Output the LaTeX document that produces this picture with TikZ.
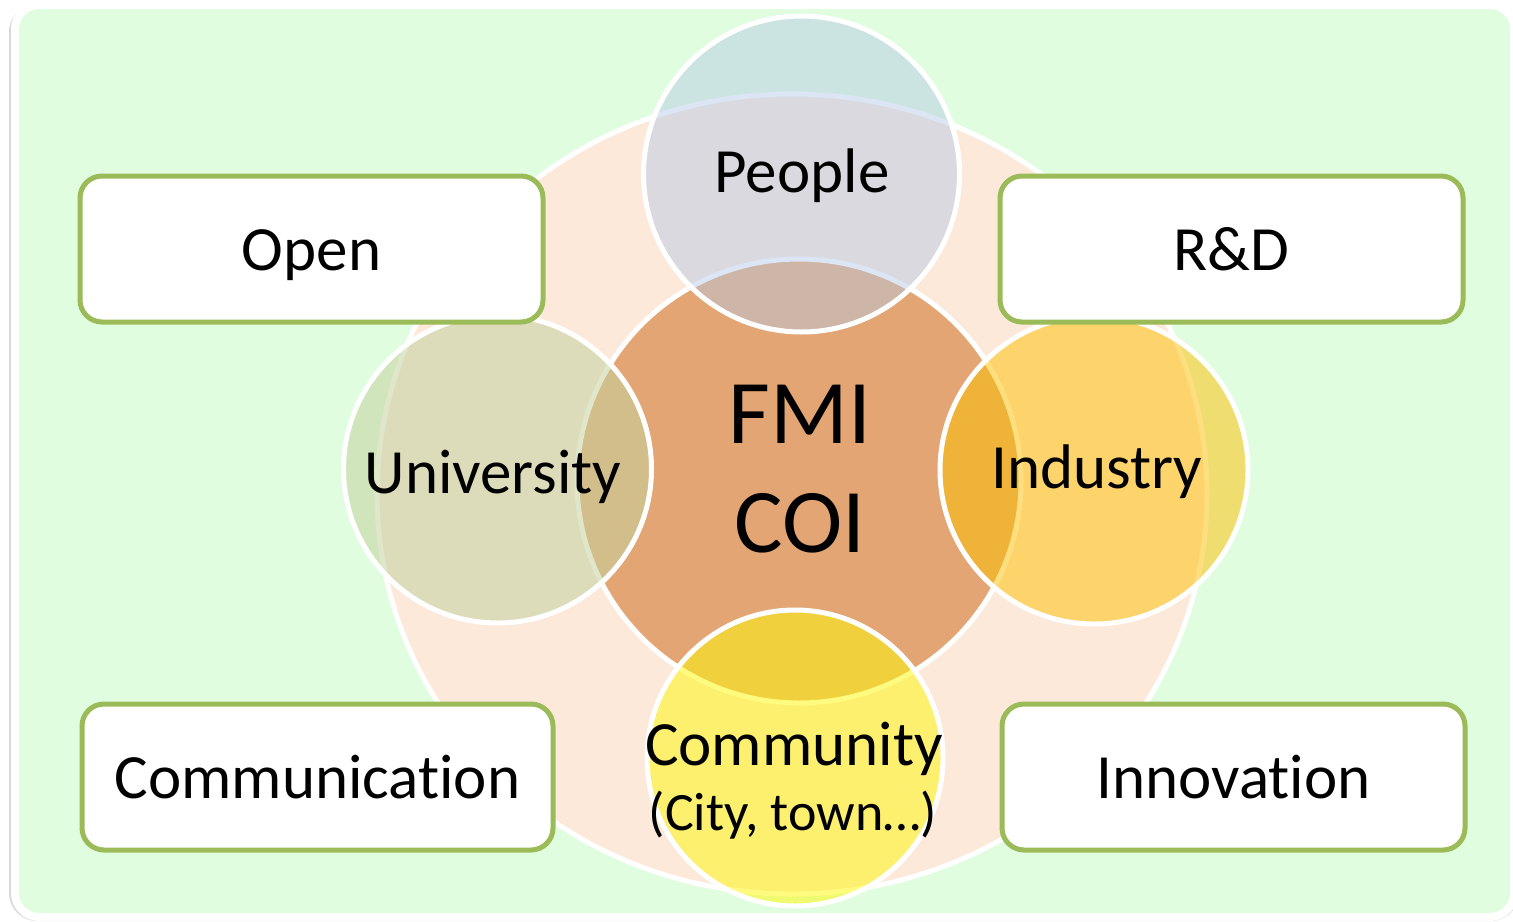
\documentclass[tikz,border=0pt]{standalone}
\usepackage{fontspec}
\setmainfont{Carlito}[Ligatures=NoCommon]
\usepackage{tikz}
\usetikzlibrary{shapes.geometric}

\definecolor{bggreen}{RGB}{224,253,224}
\definecolor{ringpeach}{RGB}{252,233,218}
\definecolor{coreorange}{RGB}{227,165,115}
\definecolor{peoplecol}{RGB}{180,200,230}
\definecolor{unicol}{RGB}{197,211,160}
\definecolor{indcol}{RGB}{254,193,0}
\definecolor{commcol}{RGB}{255,248,14}
\definecolor{boxgreen}{RGB}{155,187,89}

\tikzset{
  part/.style={circle, draw=white, line width=2.5pt, inner sep=0pt},
  facet/.style={rectangle, rounded corners=11pt, draw=boxgreen, fill=white,
    line width=2.5pt, minimum width=231.5pt, minimum height=73pt,
    text height=21pt, text depth=0pt, font=\fontsize{31.5}{37}\selectfont},
  lbl/.style={inner sep=0pt, anchor=base, font=\fontsize{31.5}{37}\selectfont},
}

\begin{document}
\begin{tikzpicture}[x=0.5pt, y=-0.5pt]
  \useasboundingbox (0,0) rectangle (1513,921);

  % Frame
  \fill[black!15, rounded corners=14pt] (9,4) rectangle (1519,921);
  \filldraw[fill=bggreen, draw=white, line width=4pt, rounded corners=12pt]
    (15,5) rectangle (1514,917);

  % Circles
  \node[ellipse, draw=white, line width=2.5pt, inner sep=0pt, fill=ringpeach,
    minimum width=415pt, minimum height=400pt] (ring) at (792,494) {};
  \node[part, fill=coreorange, minimum size=222pt] (core) at (799,481) {};
  \node[part, fill=peoplecol, fill opacity=0.46, minimum size=158pt] (people) at (801.5,174) {};
  \node[part, fill=unicol, fill opacity=0.55, minimum size=154pt] (uni) at (497.5,469) {};
  \node[part, fill=indcol, fill opacity=0.5, minimum size=154pt] (ind) at (1094,470) {};
  \node[part, fill=commcol, fill opacity=0.53, minimum size=148pt] (comm) at (795,758) {};

  % Labels
  \node[lbl, align=center, font=\fontsize{45.5}{54.5}\selectfont] (coretxt) at (800,552) {FMI\\COI};
  \node[lbl] (peopletxt) at (802,192) {People};
  \node[lbl] (unitxt) at (493,493) {University};
  \node[lbl] (indtxt) at (1097,488) {Industry};
  \node[lbl] (commtxt) at (794,765) {Community};
  \node[lbl, font=\fontsize{27}{32}\selectfont] (commsub) at (793,830) {(City, town…)};

  % Boxes
  \node[facet] (open) at (311.5,249) {Open};
  \node[facet] (rd) at (1231.5,249) {R\&D};
  \node[facet, minimum width=235.5pt] (comms) at (317.5,777) {Communication};
  \node[facet] (innov) at (1233.5,777) {Innovation};
\end{tikzpicture}
\end{document}
